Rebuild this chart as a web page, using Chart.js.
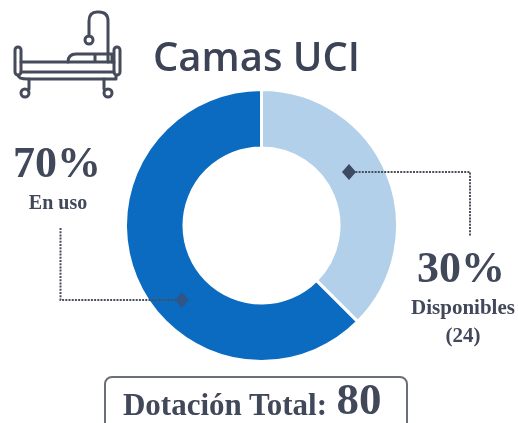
<!DOCTYPE html>
<html lang="es">
<head>
<meta charset="utf-8">
<title>Camas UCI</title>
<script src="https://cdn.jsdelivr.net/npm/chart.js@4"></script>
<style>
    html, body { margin: 0; padding: 0; background: #fff; }
    #page { position: relative; width: 518px; height: 423px; overflow: hidden; filter: blur(0.7px); }
    #chartBox { position: absolute; left: 124px; top: 88px; width: 275px; height: 275px; }
    svg { position: absolute; left: 0; top: 0; }
    .t { position: absolute; white-space: nowrap; color: #41485a; font-family: "Liberation Serif", serif; font-weight: bold; line-height: 1; transform: translateX(-50%); }
    #title { left: 153px; top: 36px; transform: none; font-family: "Open Sans", sans-serif; font-weight: 600; font-size: 40px; color: #3d4356; }
    #totalBox { position: absolute; left: 104px; top: 376px; width: 304px; height: 60px; border: 2px solid #6b7078; border-radius: 8px; box-sizing: border-box; }
</style>
</head>
<body>
<div id="page">
    <div id="chartBox"><canvas id="myChart" width="275" height="275"></canvas></div>

    <svg width="518" height="423" viewBox="0 0 518 423">
        <!-- leader lines -->
        <g fill="none" stroke="#4a4f5c" stroke-width="2" stroke-dasharray="2 1.2">
            <polyline points="349,172 470,172 470,236"></polyline>
            <polyline points="60.5,228 60.5,300 182,300"></polyline>
        </g>
        <path d="M349 164 L356 172 L349 180 L342 172 Z" fill="#3c4a63"></path>
        <path d="M182 292 L189 300 L182 308 L175 300 Z" fill="#2f5688"></path>
        <!-- bed icon -->
        <g fill="none" stroke="#454b5b" stroke-width="3" stroke-linecap="round" stroke-linejoin="round">
            <path d="M89 36 V21 Q89 12 97 12 H99 Q108 12 108 21 V62"></path>
            <circle cx="89" cy="40" r="4"></circle>
            <rect x="15" y="47" width="6" height="28" rx="3"></rect>
            <rect x="114" y="47" width="6" height="28" rx="3"></rect>
            <path d="M21 62 H68 Q68 54 76 54 H112 V62"></path>
            <path d="M68 62 H114 M95 55 V62"></path>
            <path d="M21 72 H114"></path>
            <path d="M18 75 Q18 79 28 79 H116 L116 75"></path>
            <path d="M29 79 V89 M104 79 V89"></path>
            <circle cx="25" cy="93" r="4"></circle>
            <circle cx="108" cy="93" r="4"></circle>
        </g>
    </svg>

    <div class="t" id="title">Camas UCI</div>
    <div class="t" id="pctUsed" style="left:57px;top:141px;font-size:44px"></div>
    <div class="t" id="labelUsed" style="left:58px;top:192px;font-size:20px"></div>
    <div class="t" id="pctFree" style="left:461px;top:246px;font-size:44px"></div>
    <div class="t" id="labelFree" style="left:463px;top:297px;font-size:21px"></div>
    <div class="t" id="countFree" style="left:463px;top:325px;font-size:21px"></div>

    <div id="totalBox"></div>
    <div class="t" id="totalLabel" style="left:225px;top:389px;font-size:31px"></div>
    <div class="t" id="totalValue" style="left:359px;top:377px;font-size:45px"></div>
</div>

<script>
    // arc sizes as drawn in the picture: the light slice spans 30 of the 80 beds
    const categories = ["Disponibles", "En uso"];
    const sliceValues = [30, 50];
    const sliceColors = ["#b3d0ea", "#0a6bc0"];

    const percentLabels = ["30%", "70%"];
    const availableCount = "(24)";
    const totalLabel = "Dotación Total:";
    const totalBeds = "80";

    document.getElementById("pctFree").textContent = percentLabels[0];
    document.getElementById("labelFree").textContent = categories[0];
    document.getElementById("countFree").textContent = availableCount;
    document.getElementById("pctUsed").textContent = percentLabels[1];
    document.getElementById("labelUsed").textContent = categories[1];
    document.getElementById("totalLabel").textContent = totalLabel;
    document.getElementById("totalValue").textContent = totalBeds;

    const ctx = document.getElementById("myChart").getContext("2d");
    new Chart(ctx, {
        type: "doughnut",
        data: {
            labels: categories,
            datasets: [{
                data: sliceValues,
                backgroundColor: sliceColors,
                borderColor: "#ffffff",
                borderWidth: 3,
            }],
        },
        options: {
            responsive: false,
            animation: false,
            cutout: "57%",
            plugins: {
                legend: { display: false },
                tooltip: { enabled: false },
            },
        },
    });
</script>
</body>
</html>
